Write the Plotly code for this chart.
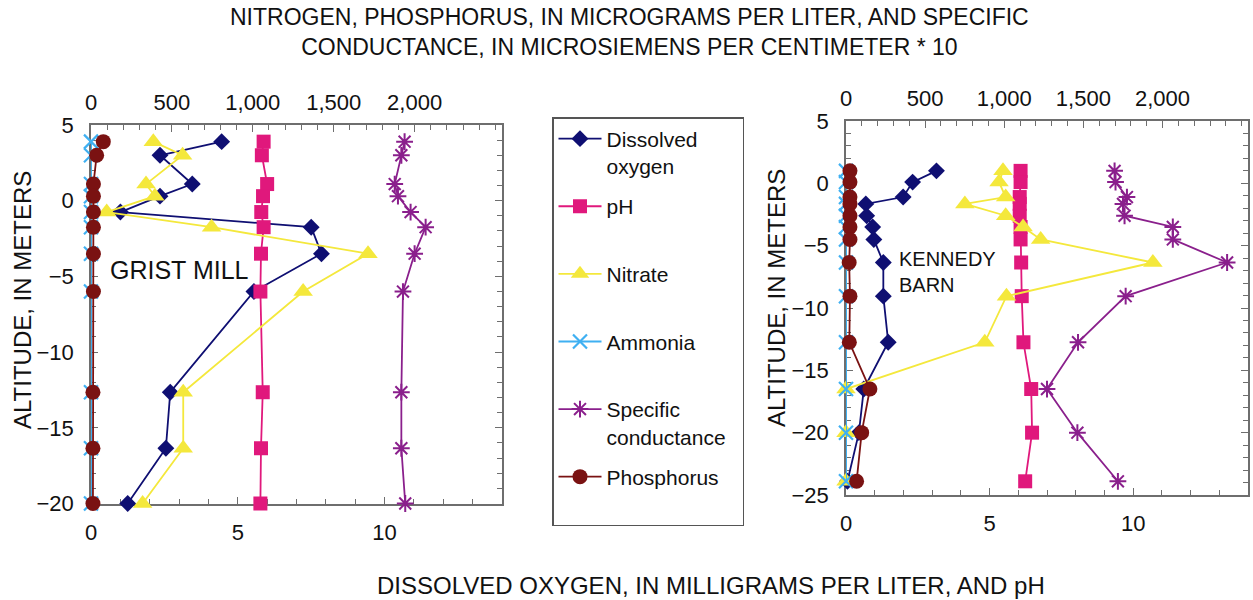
import plotly.graph_objects as go

FONT = "Liberation Sans, Arial, Helvetica, sans-serif"
AX = "#6e6e6e"

# ---------------- data ----------------
series_names = ["Dissolved<br>oxygen", "pH<br>&nbsp;", "Nitrate<br>&nbsp;", "Ammonia<br>&nbsp;",
                "Specific<br>conductance&nbsp;&nbsp;", "Phosphorus<br>&nbsp;"]

# Grist Mill (left panel)
gm_alt = [3.9, 3.0, 1.1, 0.3, -0.75, -1.75, -3.5, -6.0, -12.65, -16.35, -20.0]
gm_do = [4.45, 2.35, 3.45, 2.35, 1.0, 7.5, 7.85, 5.55, 2.7, 2.55, 1.25]
gm_ph = [5.88, 5.82, 6.0, 5.86, 5.80, 5.88, 5.79, 5.77, 5.85, 5.79, 5.77]
gm_nitrate = [385, 566, 340, 395, 97, 745, 1712, 1311, 570, 570, 319]
gm_ammonia = [0, 0, 0, 0, 0, 0, 0, 0, 0, 0, 0]
gm_cond = [1938, 1918, 1877, 1897, 1975, 2068, 2000, 1928, 1918, 1918, 1942]
gm_phos = [76, 35, 15, 15, 15, 15, 15, 15, 12, 12, 12]

# Kennedy Barn (right panel)
kb_alt = [1.0, 0.1, -1.1, -1.65, -2.6, -3.5, -4.5, -6.35, -9.05, -12.75, -16.5, -20.0, -23.9]
kb_do = [3.15, 2.32, 1.99, 0.69, 0.72, 0.93, 0.97, 1.30, 1.30, 1.47, 0.62, 0.45, 0.05]
kb_ph = [6.08, 6.08, 6.05, 6.05, 6.05, 6.08, 6.08, 6.10, 6.12, 6.18, 6.45, 6.48, 6.24]
kb_nitrate = [992, 967, 1009, 751, 1009, 1119, 1230, 1939, 1014, 877, 0, 0, 0]
kb_ammonia = [0, 0, 0, 0, 0, 0, 0, 0, 0, 0, 0, 0, 0]
kb_cond = [1697, 1703, 1775, 1750, 1760, 2065, 2065, 2408, 1767, 1466, 1270, 1462, 1718]
kb_phos = [25, 25, 25, 25, 25, 25, 25, 20, 25, 21, 151, 99, 67]

bottom_ticks = [0, 5, 10]
top_ticks = [0, 500, 1000, 1500, 2000]
left_yticks = [5, 0, -5, -10, -15, -20]
right_yticks = [5, 0, -5, -10, -15, -20, -25]

# ---------------- styles ----------------
C_DO = "#0f0f72"
C_PH = "#e0187c"
C_NI = "#f4e83c"
C_AM = "#3fb0f2"
C_SC = "#8a1f8c"
C_PO = "#7a1212"

fig = go.Figure()


def add_panel(alt, do, ph, ni, am, sc, po, xb, xt, ya, show):
    common = dict(mode="lines+markers", cliponaxis=False, showlegend=show)
    fig.add_trace(go.Scatter(x=do, y=alt, xaxis=xb, yaxis=ya, name=series_names[0],
                             legendgroup="do", legendrank=1,
                             line=dict(color=C_DO, width=1.8),
                             marker=dict(symbol="diamond", size=13, color=C_DO), **common))
    fig.add_trace(go.Scatter(x=ni, y=alt, xaxis=xt, yaxis=ya, name=series_names[2],
                             legendgroup="ni", legendrank=3,
                             line=dict(color=C_NI, width=1.8),
                             marker=dict(symbol="triangle-up", size=17, color=C_NI), **common))
    fig.add_trace(go.Scatter(x=am, y=alt, xaxis=xt, yaxis=ya, name=series_names[3],
                             legendgroup="am", legendrank=4,
                             line=dict(color=C_AM, width=2),
                             marker=dict(symbol="x-thin-open", size=14, color=C_AM,
                                         line=dict(color=C_AM, width=2.2)), **common))
    fig.add_trace(go.Scatter(x=ph, y=alt, xaxis=xb, yaxis=ya, name=series_names[1],
                             legendgroup="ph", legendrank=2,
                             line=dict(color=C_PH, width=1.8),
                             marker=dict(symbol="square", size=14, color=C_PH), **common))
    fig.add_trace(go.Scatter(x=sc, y=alt, xaxis=xt, yaxis=ya, name=series_names[4],
                             legendgroup="sc", legendrank=5,
                             line=dict(color=C_SC, width=1.8),
                             marker=dict(symbol="asterisk-open", size=14, color=C_SC,
                                         line=dict(color=C_SC, width=2)), **common))
    fig.add_trace(go.Scatter(x=po, y=alt, xaxis=xt, yaxis=ya, name=series_names[5],
                             legendgroup="po", legendrank=6,
                             line=dict(color=C_PO, width=1.8),
                             marker=dict(symbol="circle", size=15, color=C_PO), **common))


add_panel(gm_alt, gm_do, gm_ph, gm_nitrate, gm_ammonia, gm_cond, gm_phos, "x", "x2", "y", True)
add_panel(kb_alt, kb_do, kb_ph, kb_nitrate, kb_ammonia, kb_cond, kb_phos, "x3", "x4", "y2", False)

tickfont = dict(family=FONT, size=22, color="#111")
minor_x = dict(dtick=1, ticks="inside", ticklen=5, tickcolor=AX, tickwidth=1)
minor_top = dict(dtick=100, ticks="inside", ticklen=5, tickcolor=AX, tickwidth=1)
minor_y = dict(dtick=1, ticks="inside", ticklen=5, tickcolor=AX, tickwidth=1)


def xbottom(domain, anchor):
    return dict(domain=domain, range=[0, 14], anchor=anchor, tickvals=bottom_ticks,
                ticks="inside", ticklen=7, tickcolor=AX, tickwidth=1, automargin=False,
                showline=True, linecolor=AX, linewidth=1.6, showgrid=False, zeroline=False,
                layer="below traces",
                minor=minor_x, tickfont=tickfont, ticklabelstandoff=8)


def xtop(over, anchor):
    return dict(overlaying=over, side="top", range=[0, 2540], anchor=anchor, tickvals=top_ticks,
                tickformat=",", ticks="inside", ticklen=7, tickcolor=AX, tickwidth=1,
                automargin=False, layer="below traces",
                showline=True, linecolor=AX, linewidth=1.6, showgrid=False, zeroline=False,
                minor=minor_top, tickfont=tickfont, ticklabelstandoff=4)


def yaxis(domain, rng, anchor, tv):
    return dict(domain=domain, range=rng, anchor=anchor, tickvals=tv,
                ticks="inside", ticklen=7, tickcolor=AX, tickwidth=1, mirror="ticks",
                automargin=False, layer="below traces",
                showline=True, linecolor=AX, linewidth=1.6, showgrid=False, zeroline=False,
                minor=minor_y, tickfont=tickfont, ticklabelstandoff=11)


fig.update_layout(
    width=1253, height=600,
    margin=dict(l=0, r=0, t=0, b=0, autoexpand=False),
    paper_bgcolor="white", plot_bgcolor="white",
    font=dict(family=FONT, color="#111"),
    xaxis=xbottom([91 / 1253, 502 / 1253], "y"),
    xaxis2=xtop("x", "y"),
    yaxis=yaxis([1 - 503.5 / 600, 1 - 125 / 600], [-20, 5], "x", left_yticks),
    xaxis3=xbottom([846 / 1253, 1248 / 1253], "y2"),
    xaxis4=xtop("x3", "y2"),
    yaxis2=yaxis([1 - 495 / 600, 1 - 121 / 600], [-25, 5], "x3", right_yticks),
    legend=dict(x=552 / 1253, y=1 - 117 / 600, xanchor="left", yanchor="top",
                bordercolor="#555", borderwidth=1.5, bgcolor="white",
                font=dict(family=FONT, size=21, color="#111"), itemwidth=43,
                traceorder="grouped", tracegroupgap=10, valign="top"),
    annotations=[
        dict(text="NITROGEN, PHOSPHORUS, IN MICROGRAMS PER LITER, AND SPECIFIC<br>"
                  "CONDUCTANCE, IN MICROSIEMENS PER CENTIMETER * 10",
             x=629 / 1253, y=1 - 32 / 600, xref="paper", yref="paper", showarrow=False,
             xanchor="center", yanchor="middle", align="center",
             font=dict(family=FONT, size=23, color="#111")),
        dict(text="DISSOLVED OXYGEN, IN MILLIGRAMS PER LITER, AND pH",
             x=711 / 1253, y=1 - 585 / 600, xref="paper", yref="paper", showarrow=False,
             xanchor="center", yanchor="middle", font=dict(family=FONT, size=24, color="#111")),
        dict(text="ALTITUDE, IN METERS", textangle=-90,
             x=22 / 1253, y=1 - 300 / 600, xref="paper", yref="paper", showarrow=False,
             xanchor="center", yanchor="middle", font=dict(family=FONT, size=24, color="#111")),
        dict(text="ALTITUDE, IN METERS", textangle=-90,
             x=777 / 1253, y=1 - 298 / 600, xref="paper", yref="paper", showarrow=False,
             xanchor="center", yanchor="middle", font=dict(family=FONT, size=24, color="#111")),
        dict(text="GRIST MILL", x=179 / 1253, y=1 - 270 / 600, xref="paper", yref="paper",
             showarrow=False, xanchor="center", yanchor="middle",
             font=dict(family=FONT, size=25, color="#111")),
        dict(text="KENNEDY<br>BARN", x=897 / 1253, y=1 - 272 / 600, xref="paper", yref="paper",
             showarrow=False, xanchor="left", yanchor="middle", align="left",
             font=dict(family=FONT, size=20, color="#111")),
    ],
)

fig.write_html("out.html")
